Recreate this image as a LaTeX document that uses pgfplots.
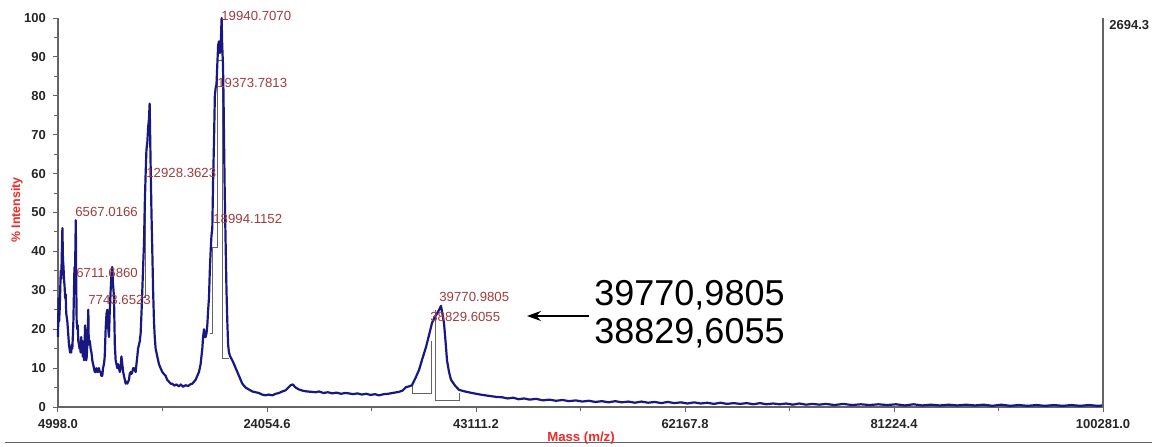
\documentclass[border=0pt]{standalone}
\usepackage{fontspec}
\setmainfont{Liberation Sans}
\usepackage{pgfplots}
\pgfplotsset{compat=1.18}
\usetikzlibrary{arrows.meta}
\definecolor{spec}{RGB}{24,24,128}
\definecolor{lab}{RGB}{160,60,60}
\definecolor{axred}{RGB}{240,40,40}
\definecolor{axgray}{RGB}{100,100,100}
\begin{document}
\begin{tikzpicture}
\path[use as bounding box] (-29pt,-19.5pt) rectangle (549.5pt,203.5pt);
\begin{axis}[
  at={(0,0)}, anchor=south west,
  scale only axis, width=522.5pt, height=194.5pt,
  xmin=4998, xmax=100281, ymin=0, ymax=100,
  axis x line*=bottom, axis y line*=left,
  axis line style={-, draw=axgray, line width=0.6pt},
  xtick={4998,24054.6,43111.2,62167.8,81224.4,100281},
  xticklabels={4998.0,24054.6,43111.2,62167.8,81224.4,100281.0},
  ytick={0,10,20,30,40,50,60,70,80,90,100},
  yticklabels={0,10,20,30,40,50,60,70,80,90,100},
  minor x tick num=1, minor y tick num=1,
  tick align=outside, major tick length=2.5pt, minor tick length=1.8pt,
  tick style={axgray, line width=0.5pt},
  ticklabel style={font=\bfseries\fontsize{6.5}{7}\selectfont, text=black!85},
  /pgf/number format/assume math mode=true,
  scaled ticks=false,
  clip=false,
]
% peak picking boxes
\addplot[axgray, line width=0.4pt] coordinates {(18900,19) (19040,19) (19040,41) (19500,41) (19500,89) (19950,89) (19950,12.5) (20600,12.5)};
\addplot[axgray, line width=0.4pt] coordinates {(12650,28.3) (12990,28.3) (12990,55)};
\addplot[axgray, line width=0.4pt] coordinates {(37276,5.5) (37276,3.6) (39072,3.6) (39072,17)};
\addplot[axgray, line width=0.4pt] coordinates {(39373,25) (39373,1.8) (41561,1.8) (41561,3.6)};
% spectrum
\addplot[spec, line width=1.1pt, line join=round] coordinates {
(4998,18) (5050,28) (5100,22) (5150,25) (5200,30) (5250,35) (5300,33) (5350,40) (5400,46) (5450,38)
(5500,36) (5544,33) (5600,31) (5650,28) (5696,29) (5750,24) (5800,23) (5848,22) (5900,20) (5950,18)
(6000,16) (6050,15) (6100,14) (6152,15) (6200,14) (6250,16) (6304,15) (6350,18) (6400,22) (6456,30)
(6500,36) (6540,30) (6580,40) (6620,48) (6660,32) (6700,22) (6760,20) (6800,21) (6850,17) (6912,16)
(6960,15) (7010,16) (7063,14) (7110,18) (7160,16) (7215,17) (7260,13) (7310,15) (7367,12) (7420,16)
(7470,21) (7519,14) (7570,12) (7620,13) (7671,16) (7720,20) (7763,25) (7800,17) (7850,16) (7900,17)
(7975,15) (8050,14) (8127,12) (8200,11) (8279,10) (8350,9) (8431,9) (8500,10) (8583,9) (8650,9)
(8735,10) (8800,9) (8887,9) (8950,8) (9039,8) (9100,10) (9191,11) (9260,13) (9343,20) (9420,24)
(9495,25) (9560,21) (9647,18) (9720,25) (9799,30) (9870,34) (9951,36) (10000,32) (10060,30) (10103,28)
(10180,16) (10255,12) (10330,11) (10407,10) (10480,11) (10558,10) (10630,9) (10710,10) (10780,13) (10862,11)
(10940,9) (11014,8) (11090,7) (11166,6) (11240,6.5) (11318,6) (11390,6.5) (11470,7) (11540,8.5) (11622,9)
(11700,8.5) (11774,9) (11850,10) (11926,10) (12000,9.5) (12078,9) (12150,11) (12230,13) (12300,15) (12382,16)
(12460,17) (12534,19) (12610,24) (12686,30) (12760,36) (12838,42) (12910,52) (12990,60) (13060,66) (13142,68)
(13220,72) (13294,74) (13354,78) (13400,70) (13445,62) (13520,50) (13597,40) (13670,30) (13749,22) (13820,18)
(13901,15) (14050,13) (14205,11) (14350,10) (14509,9) (14650,8.5) (14813,8) (14950,7) (15117,6.5) (15270,6)
(15421,6) (15600,5.5) (15800,5.8) (16029,5.3) (16200,5.8) (16400,5.2) (16636,5.6) (16850,5.4) (17050,5.8) (17244,6)
(17400,6.5) (17548,7) (17700,8) (17852,9) (18000,11) (18156,15) (18230,18) (18308,20) (18380,18) (18460,18)
(18540,19) (18612,21) (18690,25) (18764,28) (18840,35) (18916,40) (18990,44) (19068,46) (19140,58) (19220,68)
(19300,80) (19372,82) (19450,83) (19523,88) (19600,93) (19675,94) (19750,91) (19827,92) (19880,97) (19918,100)
(19970,93) (20040,88) (20090,80) (20131,70) (20200,55) (20283,42) (20360,30) (20435,22) (20510,16) (20587,14)
(20700,13) (20891,12) (21050,11) (21195,10) (21350,9) (21499,8) (21650,7) (21803,6) (21950,5.5) (22107,5)
(22400,4.5) (22714,4) (23000,3.8) (23322,3.6) (23600,3.2) (23930,3) (24200,3.2) (24538,3) (24850,3.4) (25146,3.6)
(25450,4) (25753,4.3) (26000,5) (26209,5.6) (26400,5.8) (26665,5) (26969,4.5) (27300,4.2) (27700,4) (28100,3.9)
(28500,3.8) (28800,4) (29200,3.6) (29600,3.8) (30000,3.5) (30400,3.7) (30800,3.4) (31200,3.6) (31530,3.5) (31900,3.3)
(32300,3.5) (32700,3.2) (33100,3.4) (33500,3.1) (33900,3.3) (34267,3.0) (34700,3.3) (35100,3.4) (35500,3.6) (36090,3.9)
(36400,4.2) (36729,5.1) (37000,5.3) (37276,5.6) (37600,7.5) (37914,9.5) (38230,12.5) (38552,15.4) (38830,18.5) (39099,21.6)
(39330,23) (39555,24) (39750,25) (39920,26) (40050,24) (40193,21.6) (40330,17) (40467,12) (40650,9) (40832,7)
(41200,5.5) (41561,4.4) (42100,4) (42746,3.6) (43500,3.2) (44200,2.9) (44934,2.6)
(45500,2.5) (46000,2.2) (46500,2.4) (47000,2.0) (47500,2.2) (48000,1.9) (48600,2.1) (49200,1.7) (49800,1.9) (50400,1.6)
(51000,1.8) (51600,1.5) (52200,1.7) (52800,1.4) (53400,1.6) (54000,1.3) (54600,1.5) (55200,1.2) (55800,1.5) (56400,1.2)
(57000,1.4) (57600,1.1) (58200,1.4) (58800,1.1) (59400,1.3) (60000,1.0) (60600,1.3) (61200,1.0) (61800,1.2) (62400,0.9)
(63000,1.2) (63600,0.9) (64200,1.1) (64800,0.8) (65400,1.1) (66000,0.8) (66600,1.0) (67200,0.8) (67800,1.0) (68400,0.7)
(69000,1.0) (69600,0.7) (70200,0.9) (70800,0.7) (71400,0.9) (72000,0.6) (72600,0.9) (73200,0.6) (73800,0.8) (74400,0.6)
(75000,0.8) (75800,0.5) (76600,0.8) (77400,0.5) (78200,0.7) (79000,0.5) (79800,0.7) (80600,0.5) (81400,0.7) (82200,0.4)
(83000,0.7) (83800,0.4) (84600,0.6) (85400,0.4) (86200,0.6) (87000,0.4) (87800,0.6) (88600,0.4) (89400,0.6) (90200,0.3)
(91000,0.6) (91800,0.3) (92600,0.5) (93400,0.3) (94200,0.5) (95000,0.3) (95800,0.5) (96600,0.3) (97400,0.5) (98200,0.3)
(99000,0.5) (99800,0.3) (100281,0.4)
};
% right axis
\draw[axgray, line width=0.6pt] (rel axis cs:1,0) -- (rel axis cs:1,1);
\node[anchor=north west, inner sep=0pt, font=\bfseries\fontsize{6.5}{7}\selectfont, text=black!85]
  at ([xshift=3pt,yshift=-1.2pt]rel axis cs:1,1) {2694.3};
% peak labels
\begin{scope}[every node/.style={anchor=west, inner sep=0pt, text=lab, font=\fontsize{6.6}{7}\selectfont}]
\node at (axis cs:19860,100.5) {19940.7070};
\node at (axis cs:19496,83.3) {19373.7813};
\node at (axis cs:13022,60.2) {12928.3623};
\node at (axis cs:19131,48.3) {18994.1152};
\node at (axis cs:6548,50.1) {6567.0166};
\node at (axis cs:6639,34.4) {6711.6860};
\node at (axis cs:7733,27.5) {7743.6523};
\node at (axis cs:39737,28.3) {39770.9805};
\node at (axis cs:38916,23.1) {38829.6055};
\end{scope}
% annotation
\node[anchor=west, inner sep=0pt, align=left, font=\fontsize{18}{19}\selectfont] at (axis cs:53870,23.9) {39770,9805\\38829,6055};
\draw[-{Stealth[length=7pt,width=5pt]}, line width=0.75pt] (axis cs:53414,23.4) -- (axis cs:47760,23.4);
% axis title
\node[rotate=90, text=axred, font=\bfseries\fontsize{6.2}{7}\selectfont] at ([xshift=-20.5pt]rel axis cs:0,0.506) {\% Intensity};
\end{axis}
\node[text=axred, font=\bfseries\fontsize{6.6}{7}\selectfont, inner sep=0pt] at (261.5pt,-15.3pt) {Mass (m/z)};
\draw[axgray, line width=0.8pt] (-26.5pt,-17.8pt) -- (547pt,-17.8pt);
\end{tikzpicture}
\end{document}
